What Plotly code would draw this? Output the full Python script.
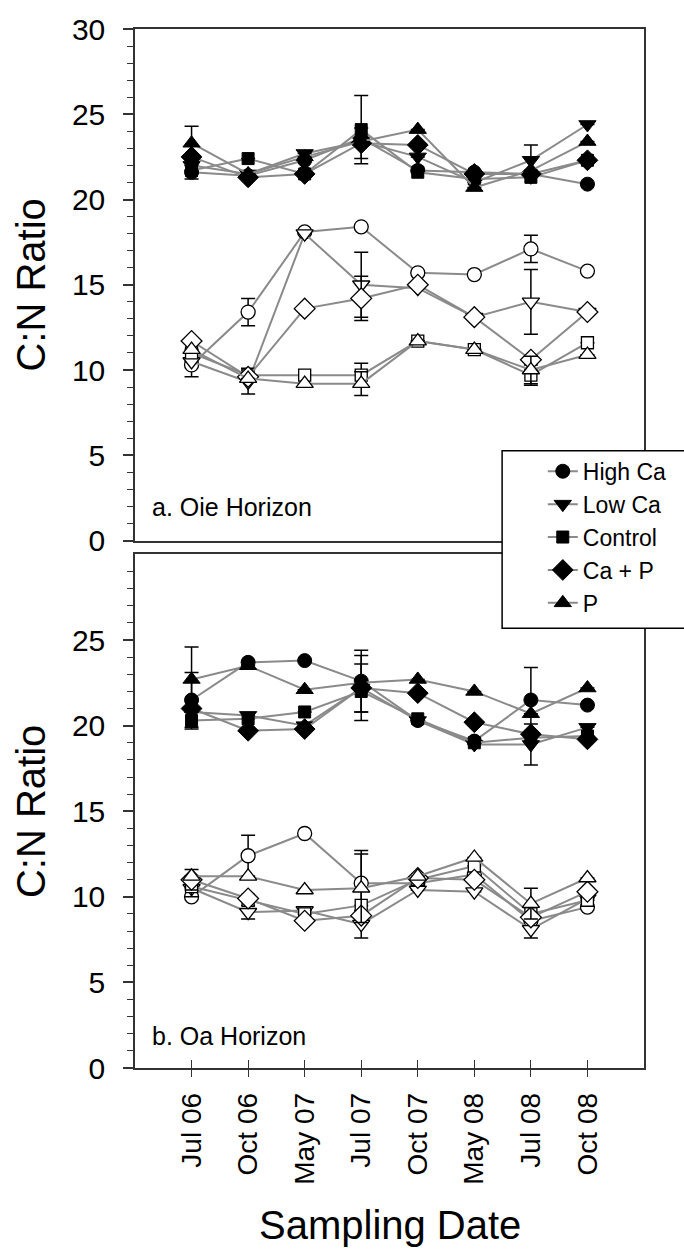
import plotly.graph_objects as go

dates = ["Jul 06", "Oct 06", "May 07", "Jul 07", "Oct 07", "May 08", "Jul 08", "Oct 08"]
treatments = ["High Ca", "Low Ca", "Control", "Ca + P", "P"]
symbols = ["circle", "triangle-down", "square", "diamond", "triangle-up"]
sizes = [14, 15, 12, 16, 15]

# ---- Oie horizon (panel a) ----
oie_filled_high_ca = [21.6, 21.4, 22.3, 23.6, 21.7, 21.6, 21.5, 20.9]
oie_filled_low_ca = [22.0, 21.5, 22.7, 23.4, 22.5, 21.0, 22.3, 24.4]
oie_filled_control = [21.7, 22.4, 21.5, 24.1, 21.6, 21.2, 21.3, 22.3]
oie_filled_ca_p = [22.5, 21.3, 21.5, 23.3, 23.2, 21.5, 21.5, 22.3]
oie_filled_p = [23.3, 21.5, 22.5, 23.4, 24.1, 20.7, 21.7, 23.4]

oie_filled_err_high_ca = [0.4, None, None, None, None, None, None, None]
oie_filled_err_low_ca = [None, None, None, None, None, None, 0.9, None]
oie_filled_err_control = [None, None, None, 2.0, None, None, None, None]
oie_filled_err_ca_p = [None, None, None, 0.9, None, None, None, None]
oie_filled_err_p = [1.0, None, None, None, None, None, None, None]

oie_open_high_ca = [10.3, 13.4, 18.1, 18.4, 15.7, 15.6, 17.1, 15.8]
oie_open_low_ca = [10.5, 9.3, 18.0, 15.0, 14.8, 13.1, 14.0, 13.4]
oie_open_control = [11.0, 9.7, 9.7, 9.7, 11.7, 11.2, 9.7, 11.6]
oie_open_ca_p = [11.7, 9.6, 13.6, 14.2, 15.0, 13.1, 10.6, 13.4]
oie_open_p = [11.2, 9.5, 9.2, 9.2, 11.7, 11.2, 10.0, 10.9]

oie_open_err_high_ca = [0.7, 0.8, None, None, None, None, 0.8, None]
oie_open_err_low_ca = [None, 0.7, None, 1.9, None, None, 1.9, None]
oie_open_err_control = [None, 0.4, None, 0.7, None, None, 0.6, None]
oie_open_err_ca_p = [None, None, None, 1.3, None, None, None, None]
oie_open_err_p = [None, None, None, 0.7, None, None, 0.8, None]

# ---- Oa horizon (panel b) ----
oa_filled_high_ca = [21.5, 23.7, 23.8, 22.6, 20.3, 19.1, 21.5, 21.2]
oa_filled_low_ca = [20.8, 20.6, 20.0, 22.2, 20.3, 18.9, 18.9, 19.9]
oa_filled_control = [20.3, 20.4, 20.8, 22.0, 20.4, 19.0, 19.3, 19.4]
oa_filled_ca_p = [21.0, 19.7, 19.8, 22.2, 21.9, 20.2, 19.5, 19.2]
oa_filled_p = [22.7, 23.5, 22.1, 22.5, 22.7, 22.0, 20.7, 22.2]

oa_filled_err_high_ca = [1.6, None, None, 1.8, None, None, 1.9, None]
oa_filled_err_low_ca = [None, None, None, 1.9, None, None, 1.2, None]
oa_filled_err_control = [0.5, None, None, None, None, None, None, None]
oa_filled_err_ca_p = [None, None, None, 1.4, None, None, None, None]
oa_filled_err_p = [1.9, None, None, None, None, None, None, None]

oa_open_high_ca = [10.0, 12.4, 13.7, 10.8, 10.8, 11.3, 8.6, 9.4]
oa_open_low_ca = [10.5, 9.1, 9.2, 8.4, 10.4, 10.3, 8.1, 9.9]
oa_open_control = [10.6, 9.8, 9.0, 9.5, 11.0, 11.8, 9.0, 9.8]
oa_open_ca_p = [11.0, 9.9, 8.6, 8.9, 11.1, 11.0, 8.8, 10.3]
oa_open_p = [11.2, 11.2, 10.4, 10.5, 11.2, 12.3, 9.6, 11.1]

oa_open_err_high_ca = [None, 1.2, None, 1.9, None, None, None, None]
oa_open_err_low_ca = [None, 0.4, None, 0.8, None, None, 0.5, None]
oa_open_err_control = [0.6, None, None, None, None, None, None, None]
oa_open_err_ca_p = [0.6, None, None, None, None, None, None, None]
oa_open_err_p = [None, None, None, 2.0, None, None, 0.9, None]

panels = [
    ("y", "x",
     [oie_filled_high_ca, oie_filled_low_ca, oie_filled_control, oie_filled_ca_p, oie_filled_p],
     [oie_filled_err_high_ca, oie_filled_err_low_ca, oie_filled_err_control, oie_filled_err_ca_p, oie_filled_err_p],
     [oie_open_high_ca, oie_open_low_ca, oie_open_control, oie_open_ca_p, oie_open_p],
     [oie_open_err_high_ca, oie_open_err_low_ca, oie_open_err_control, oie_open_err_ca_p, oie_open_err_p]),
    ("y2", "x2",
     [oa_filled_high_ca, oa_filled_low_ca, oa_filled_control, oa_filled_ca_p, oa_filled_p],
     [oa_filled_err_high_ca, oa_filled_err_low_ca, oa_filled_err_control, oa_filled_err_ca_p, oa_filled_err_p],
     [oa_open_high_ca, oa_open_low_ca, oa_open_control, oa_open_ca_p, oa_open_p],
     [oa_open_err_high_ca, oa_open_err_low_ca, oa_open_err_control, oa_open_err_ca_p, oa_open_err_p]),
]

FONT = "Liberation Sans, Arial, sans-serif"
LINE_GRAY = "#8a8a8a"
AX = "#333333"
xidx = list(range(len(dates)))

fig = go.Figure()
for pi, (ya, xa, filled, ferr, opened, oerr) in enumerate(panels):
    for k, name in enumerate(treatments):
        fig.add_trace(go.Scatter(
            x=xidx, y=opened[k], xaxis=xa, yaxis=ya, mode="lines+markers",
            name=name, legendgroup=name, showlegend=False,
            line=dict(color=LINE_GRAY, width=2),
            marker=dict(symbol=symbols[k], size=sizes[k], color="white",
                        line=dict(color="black", width=1.3)),
            error_y=dict(type="data", array=oerr[k], visible=True, color="black",
                         thickness=1.5, width=7),
        ))
    for k, name in enumerate(treatments):
        fig.add_trace(go.Scatter(
            x=xidx, y=filled[k], xaxis=xa, yaxis=ya, mode="lines+markers",
            name=name, legendgroup=name, showlegend=(pi == 0),
            line=dict(color=LINE_GRAY, width=2),
            marker=dict(symbol=symbols[k], size=sizes[k], color="black",
                        line=dict(color="black", width=1)),
            error_y=dict(type="data", array=ferr[k], visible=True, color="black",
                         thickness=1.5, width=7),
        ))

# geometry (pixels): plot area x 135..648, top panel y 26..539, bottom panel y 553..1068
W, H = 684, 1256
L, R, T, B = 135, 36, 26, 188
ph = H - T - B
pw = W - L - R
top_dom = [(1068 - 539) / ph, 1.0]
bot_dom = [0.0, (1068 - 553) / ph]

common_y = dict(range=[0, 30], showgrid=False, zeroline=False, showline=True, mirror=True,
                linecolor=AX, linewidth=1.5, ticks="outside", ticklen=10, tickwidth=1.5,
                tickcolor=AX, tickfont=dict(size=30, color="black", family=FONT),
                ticklabelstandoff=12)

fig.update_layout(
    width=W, height=H, margin=dict(l=L, r=R, t=T, b=B),
    paper_bgcolor="white", plot_bgcolor="white",
    font=dict(family=FONT, color="black"),
    xaxis=dict(domain=[0, 1], anchor="y", range=[-1, 8], showticklabels=False, ticks="",
               showgrid=False, zeroline=False, showline=True, mirror=True,
               linecolor=AX, linewidth=1.5),
    yaxis=dict(domain=top_dom, anchor="x", tickmode="linear", tick0=0, dtick=5,
               minor=dict(tickmode="linear", tick0=0, dtick=1, ticks="outside", ticklen=6,
                          tickwidth=1.2, tickcolor=AX),
               **common_y),
    xaxis2=dict(domain=[0, 1], anchor="y2", range=[-1, 8], tickmode="array", tickvals=xidx,
                ticktext=dates, tickangle=-90, ticks="inside", ticklen=8, tickwidth=1.2,
                tickcolor=AX, tickfont=dict(size=28, color="black", family=FONT),
                ticklabelstandoff=12,
                minor=dict(tickmode="array", tickvals=[i + 0.001 for i in xidx],
                           ticks="outside", ticklen=7, tickwidth=1.2, tickcolor=AX),
                showgrid=False, zeroline=False, showline=True, mirror=True,
                linecolor=AX, linewidth=1.5),
    yaxis2=dict(domain=bot_dom, anchor="x2", tickmode="array", tickvals=[0, 5, 10, 15, 20, 25],
                minor=dict(tickmode="array", tickvals=[v for v in range(1, 30) if v % 5],
                           ticks="outside", ticklen=6, tickwidth=1.2, tickcolor=AX),
                **common_y),
    legend=dict(x=(546 - L) / pw, y=(1068 - 448) / ph, xanchor="left", yanchor="top",
                bgcolor="rgba(0,0,0,0)", borderwidth=0,
                font=dict(size=23, color="black", family=FONT),
                tracegroupgap=0, itemwidth=30),
    showlegend=True,
)

# legend frame
fig.add_shape(type="rect", xref="paper", yref="paper",
              x0=(505 - L) / pw, x1=1.2,
              y0=(1068 - 627) / ph, y1=(1068 - 449) / ph,
              fillcolor="white", line=dict(color="black", width=1.5), layer="above")

# annotations
fig.add_annotation(text="a. Oie Horizon", xref="x domain", yref="y domain",
                   x=(150 - L) / pw, y=(539 - 505) / (539 - 26),
                   xanchor="left", yanchor="middle", showarrow=False,
                   font=dict(size=25, color="black", family=FONT))
fig.add_annotation(text="b. Oa Horizon", xref="x2 domain", yref="y2 domain",
                   x=(150 - L) / pw, y=(1068 - 1036) / (1068 - 553),
                   xanchor="left", yanchor="middle", showarrow=False,
                   font=dict(size=25, color="black", family=FONT))
for yc in [(26 + 539) / 2, (553 + 1068) / 2]:
    fig.add_annotation(text="C:N Ratio", xref="paper", yref="paper",
                       x=(30 - L) / pw, y=(1068 - yc) / ph, textangle=-90,
                       xanchor="center", yanchor="middle", showarrow=False,
                       font=dict(size=40, color="black", family=FONT))
fig.add_annotation(text="Sampling Date", xref="paper", yref="paper",
                   x=0.5, y=(1068 - 1225) / ph, xanchor="center", yanchor="middle",
                   showarrow=False, font=dict(size=40, color="black", family=FONT))

fig.write_html("out.html")
